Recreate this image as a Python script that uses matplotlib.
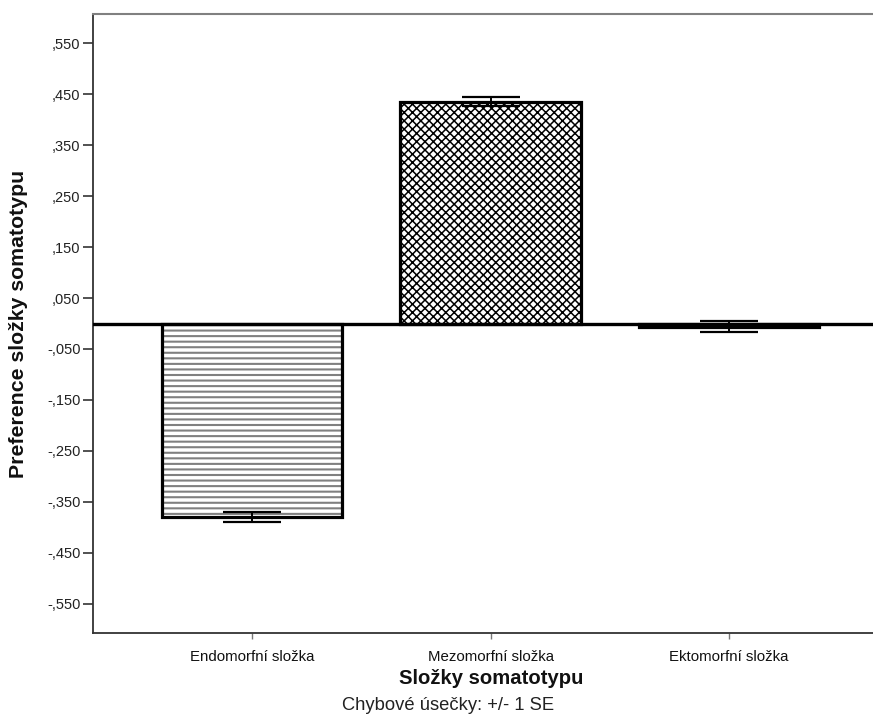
import matplotlib
matplotlib.use("Agg")
import matplotlib.pyplot as plt
import numpy as np

plt.rcParams['font.family'] = ['Liberation Sans', 'DejaVu Sans']

categories = ["Endomorfní složka", "Mezomorfní složka", "Ektomorfní složka"]
means = [-0.379, 0.435, -0.006]
std_err = [0.0095, 0.0085, 0.011]
hatches = ["---", "xxxx", "xxxx"]
hatch_colors = ["#808080", "#000000", "#000000"]
hatch_widths = [1.5, 1.1, 1.1]
y_ticks = [-0.55, -0.45, -0.35, -0.25, -0.15, -0.05, 0.05, 0.15, 0.25, 0.35, 0.45, 0.55]


def spss_fmt(v):
    s = f"{v:.3f}"
    s = s.replace("0.", ".", 1)
    return s.replace(".", ",")


fig = plt.figure(figsize=(8.73, 7.2), dpi=100)
W, H = 873, 720
left_px, right_px, top_px, bottom_px = 93, 888, 14, 633
ax = fig.add_axes([left_px / W, 1 - bottom_px / H,
                   (right_px - left_px) / W, (bottom_px - top_px) / H])

x = np.arange(len(categories))
for xi, m, h, hc, hw in zip(x, means, hatches, hatch_colors, hatch_widths):
    with plt.rc_context({'hatch.linewidth': hw}):
        fill = ax.bar(xi, m, width=0.757, facecolor="white", edgecolor=hc,
                      hatch=h, linewidth=0, zorder=2)
        for p in fill:
            if hasattr(p, "set_hatch_linewidth"):
                p.set_hatch_linewidth(hw)
    ax.bar(xi, m, width=0.757, facecolor="none", edgecolor="black",
           linewidth=2.3, zorder=3)

ax.errorbar(x, means, yerr=std_err, fmt="none", ecolor="black",
            elinewidth=1.4, capsize=21, capthick=1.6, zorder=4)

ax.axhline(0, color="black", linewidth=2.4, zorder=5)

ax.set_xlim(-0.667, 2.667)
ax.set_ylim(-0.607, 0.607)

ax.set_yticks(y_ticks)
ax.set_yticklabels([spss_fmt(v) for v in y_ticks], fontsize=10.5, color="#222222")
ax.set_xticks(x)
ax.set_xticklabels(categories, fontsize=10.8, color="#111111")

ax.tick_params(axis="y", direction="out", length=7, width=1.2, color="#333333", pad=2)
ax.tick_params(axis="x", direction="out", length=4, width=1, color="#777777", pad=8)

ax.spines["right"].set_visible(False)
ax.spines["top"].set_color("#808080")
ax.spines["top"].set_linewidth(1.5)
ax.spines["left"].set_color("#333333")
ax.spines["left"].set_linewidth(1.3)
ax.spines["bottom"].set_color("#333333")
ax.spines["bottom"].set_linewidth(1.3)

fig.text(19 / W, 1 - 324 / H, "Preference složky somatotypu", rotation=90,
         ha="center", va="center", fontsize=15.3, fontweight="bold", color="#111111")
fig.text(491 / W, 1 - 678 / H, "Složky somatotypu", ha="center", va="center",
         fontsize=14.6, fontweight="bold", color="#111111")
fig.text(448 / W, 1 - 706 / H, "Chybové úsečky: +/- 1 SE", ha="center", va="center",
         fontsize=13.2, color="#222222")

fig.savefig("out.png", dpi=100)
